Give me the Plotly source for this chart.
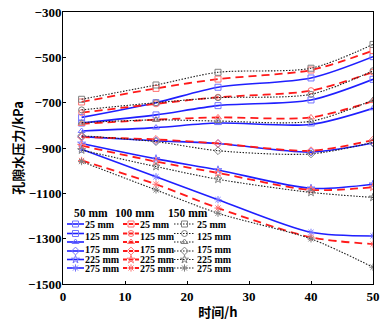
import plotly.graph_objects as go

# ---------------- data ----------------
time_h = [3, 15, 25, 40, 50]

# 50 mm (blue, solid)
blue_25 = [-765, -700, -632, -591, -497]
blue_125a = [-790, -754, -713, -688, -597]
blue_125b = [-825, -810, -790, -796, -725]
blue_175 = [-850, -868, -880, -918, -878]
blue_225 = [-880, -948, -997, -1078, -1060]
blue_275 = [-905, -1027, -1128, -1272, -1288]

# 100 mm (red, dashed)
red_25 = [-697, -637, -596, -556, -470]
red_125a = [-744, -705, -676, -647, -565]
red_125b = [-794, -775, -765, -765, -693]
red_175 = [-852, -862, -880, -912, -865]
red_225 = [-890, -960, -1010, -1085, -1073]
red_275 = [-955, -1060, -1165, -1294, -1324]

# 150 mm (gray, dotted)
gray_25 = [-685, -622, -566, -548, -443]
gray_125a = [-732, -700, -678, -663, -559]
gray_125b = [-788, -776, -781, -782, -688]
gray_175 = [-846, -872, -912, -926, -875]
gray_225 = [-909, -982, -1038, -1096, -1118]
gray_275 = [-960, -1085, -1188, -1301, -1426]

group_titles = ["50 mm", "100 mm", "150 mm"]
row_labels = ["25 mm", "125 mm", "175 mm", "225 mm", "275 mm"]

x_ticks = [0, 10, 20, 30, 40, 50]
y_ticks = [-1500, -1300, -1100, -900, -700, -500, -300]
y_tick_text = ["\u22121500", "\u22121300", "\u22121100", "\u2212900", "\u2212700", "\u2212500", "\u2212300"]

# ---------------- styles ----------------
SERIF = "Liberation Serif"
CJK = "Noto Sans CJK SC"
blue_sym = ["square-open", "square-open", "triangle-up-open", "diamond-open", "star-open", "asterisk-open"]
other_sym = ["square-open", "circle-open", "triangle-up-open", "diamond-open", "star-open", "asterisk-open"]

groups = [
    dict(series=[blue_25, blue_125a, blue_125b, blue_175, blue_225, blue_275],
         line=dict(color="#1f1fff", width=1.6, dash="solid"), mcolor="#7373ff", syms=blue_sym),
    dict(series=[red_25, red_125a, red_125b, red_175, red_225, red_275],
         line=dict(color="#ff1a1a", width=1.8, dash="8px,5px"), mcolor="#ff7070", syms=other_sym),
    dict(series=[gray_25, gray_125a, gray_125b, gray_175, gray_225, gray_275],
         line=dict(color="#222222", width=1.1, dash="1.5px,1.5px"), mcolor="#808080", syms=other_sym),
]

fig = go.Figure()
for g in groups:
    for s, sym in zip(g["series"], g["syms"]):
        fig.add_trace(go.Scatter(
            x=time_h, y=s, mode="lines+markers",
            line=dict(color=g["line"]["color"], width=g["line"]["width"],
                      dash=g["line"]["dash"], shape="spline", smoothing=0.8),
            marker=dict(symbol=sym, size=6, color=g["mcolor"], line=dict(width=1, color=g["mcolor"])),
            showlegend=False, hoverinfo="skip",
        ))

# ---------------- hand-made legend (pixel coords on overlay axes) ----------------
L, R, T, B = 63, 373, 12, 284
col_line = [(67, 84), (123, 139), (174, 195)]
col_text_x = [84, 139, 196]
header_x = [91, 135, 188]
header_y = 213
row_y = [224, 233.5, 242, 251, 259.5, 268]
label_y = [224, 236, 249, 259.5, 268]

for ci, g in enumerate(groups):
    x0, x1 = col_line[ci]
    for ri, sym in enumerate(g["syms"]):
        fig.add_trace(go.Scatter(
            x=[x0, x1], y=[row_y[ri], row_y[ri]], xaxis="x2", yaxis="y2", mode="lines",
            line=dict(color=g["line"]["color"], width=g["line"]["width"],
                      dash="solid" if ci == 0 else ("4px,2px" if ci == 1 else "1.5px,1.5px")),
            showlegend=False, hoverinfo="skip"))
        fig.add_trace(go.Scatter(
            x=[(x0 + x1) / 2], y=[row_y[ri]], xaxis="x2", yaxis="y2", mode="markers",
            marker=dict(symbol=sym, size=6, color=g["mcolor"], line=dict(width=1, color=g["mcolor"])),
            showlegend=False, hoverinfo="skip"))
    fig.add_annotation(x=header_x[ci], y=header_y, xref="x2", yref="y2", text="<b>" + group_titles[ci] + "</b>",
                       showarrow=False, xanchor="center", yanchor="middle",
                       font=dict(family=SERIF, size=11.5, color="black"))
    for li, lab in enumerate(row_labels):
        fig.add_annotation(x=col_text_x[ci], y=label_y[li], xref="x2", yref="y2", text="<b>" + lab + "</b>",
                           showarrow=False, xanchor="left", yanchor="middle", height=9, borderpad=0,
                           font=dict(family=SERIF, size=10, color="black"))

tickfont = dict(family=SERIF, size=13, color="black")
fig.update_layout(
    width=389, height=321,
    margin=dict(l=L, r=389 - R, t=T, b=321 - B, autoexpand=False),
    paper_bgcolor="white", plot_bgcolor="white",
    font=dict(family=SERIF),
    xaxis=dict(range=[0, 50], tickvals=x_ticks, ticktext=["<b>%d</b>" % v for v in x_ticks],
               ticks="inside", ticklen=3, tickcolor="black", automargin=False,
               showline=True, linecolor="black", linewidth=1, mirror=True, showgrid=False,
               zeroline=False, tickfont=tickfont,
               title=dict(text="<b>时间/h</b>", standoff=12,
                          font=dict(family=CJK, size=13, color="black"))),
    yaxis=dict(range=[-1500, -300], tickvals=y_ticks, ticktext=["<b>%s</b>" % t for t in y_tick_text],
               ticks="inside", ticklen=3, automargin=False,
               tickcolor="black", showline=True, linecolor="black", linewidth=1, mirror=True,
               showgrid=False, zeroline=False, tickfont=tickfont, ticklabelstandoff=-2,
               title=dict(text="<b>孔隙水压力/kPa</b>", standoff=1,
                          font=dict(family=CJK, size=13, color="black"))),
    xaxis2=dict(range=[L, R], overlaying="x", visible=False, domain=[0, 1]),
    yaxis2=dict(range=[B, T], overlaying="y", visible=False, anchor="x2"),
)

fig.write_html("out.html")
